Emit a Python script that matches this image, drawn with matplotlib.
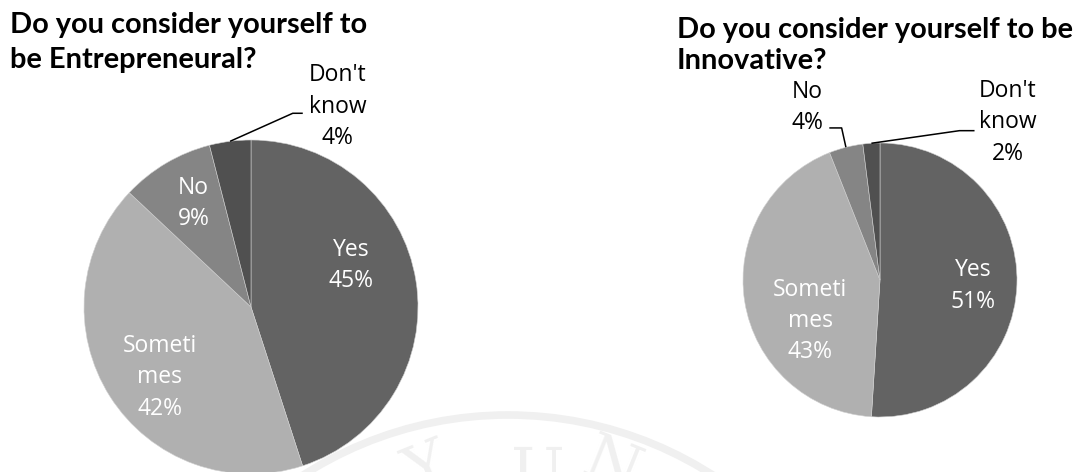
import matplotlib
matplotlib.use('Agg')
import numpy as np
import matplotlib.pyplot as plt
from matplotlib.patches import Circle

categories = ['Yes', 'Sometimes', 'No', "Don't know"]
label_text = ['Yes', 'Someti\nmes', 'No', "Don't\nknow"]
entre_values = [45, 42, 9, 4]
innov_values = [51, 43, 4, 2]
titles = ['Do you consider yourself to\nbe Entrepreneural?',
          'Do you consider yourself to be\nInnovative?']

colors = ['#636363', '#b0b0b0', '#858585', '#505050']

W, H = 1086, 472
fig = plt.figure(figsize=(W / 100, H / 100), dpi=100)
ax = fig.add_axes([0, 0, 1, 1])

# faint watermark at the bottom
ax.add_patch(Circle((508, H - 794), 379, fill=False, ec='#f0f0f0', lw=5.5, zorder=0))
for ch, x, rot in [('Y', 428, 22), ('U', 538, 0), ('N', 612, -22)]:
    ax.text(x, -34, ch, fontsize=46, family='DejaVu Serif', color='#f0f0f0',
            rotation=rot, ha='center', va='bottom', zorder=0)

# pie layout: center (px from top-left), radius, inside label placements,
# outside labels: text pos, elbow, end (all in radius units from center)
layouts = [
    dict(center=(251, 307), radius=167,
         inside={0: (22.6, 0.65), 1: (-142.4, 0.69), 2: (119.0, 0.71)},
         outside={3: ((0.52, 1.20), (0.25, 1.16), (0.31, 1.16))},
         title_xy=(10, 12), title_ls=1.45),
    dict(center=(880, 280), radius=137,
         inside={0: (-3.7, 0.68), 1: (-149.6, 0.59)},
         outside={2: ((-0.53, 1.26), (-0.28, 1.11), (-0.37, 1.11)),
                  3: ((0.93, 1.15), (0.58, 1.09), (0.69, 1.09))},
         title_xy=(677, 17), title_ls=1.25),
]

label_font = dict(family='Open Sans', fontsize=16.5, linespacing=1.4,
                  ha='center', va='center')

for values, title, lay in zip([entre_values, innov_values], titles, layouts):
    cx, cy = lay['center'][0], H - lay['center'][1]
    r = lay['radius']
    wedges, _ = ax.pie(values, colors=colors, startangle=90, counterclock=False,
                       center=(cx, cy), radius=r, frame=True,
                       wedgeprops=dict(edgecolor='#d0d0d0', linewidth=0.4))
    for i, w in enumerate(wedges):
        txt = '{}\n{}%'.format(label_text[i], values[i])
        if i in lay['inside']:
            ang, rr = lay['inside'][i]
            a = np.deg2rad(ang)
            ax.text(cx + rr * r * np.cos(a), cy + rr * r * np.sin(a), txt,
                    color='white', **label_font)
        else:
            (tx, ty), (ex, ey), (fx, fy) = lay['outside'][i]
            mid = np.deg2rad((w.theta1 + w.theta2) / 2)
            px, py = cx + r * np.cos(mid), cy + r * np.sin(mid)
            ax.plot([px, cx + ex * r, cx + fx * r], [py, cy + ey * r, cy + fy * r],
                    color='black', lw=1.1, solid_capstyle='butt')
            ax.text(cx + tx * r, cy + ty * r, txt, color='black', **label_font)
    tx, ty = lay['title_xy']
    ax.text(tx, H - ty, title, family='Lato', fontweight='bold', fontsize=20.9,
            ha='left', va='top', linespacing=lay['title_ls'], color='black')

ax.set_xlim(0, W)
ax.set_ylim(0, H)
ax.set_aspect('equal')
ax.axis('off')

fig.savefig('out.png', dpi=100)
